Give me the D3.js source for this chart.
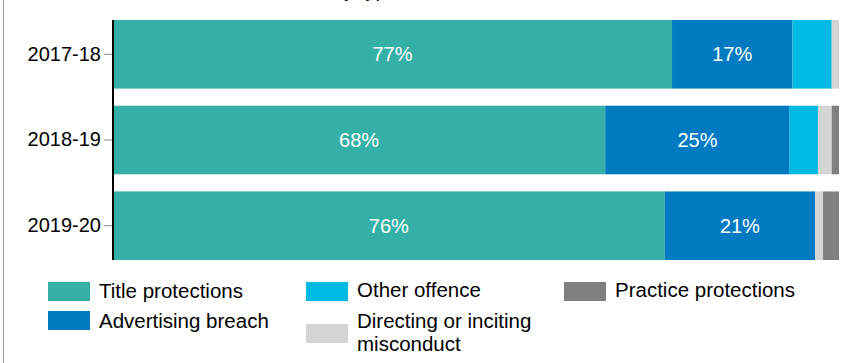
<!DOCTYPE html>
<html lang="en">
    <head>
        <meta charset="utf-8">
        <title>Prosecutions by type</title>
        <script src="https://d3js.org/d3.v7.min.js"></script>
        <style>
            body { margin: 0; background: #fff; }
            svg { display: block; font-family: "Liberation Sans", Arial, sans-serif; }
        </style>
    </head>
    <body>
        <script type="text/javascript">
            var width = 854, height = 363;

            // data (percent of prosecutions)
            var years = ["2017-18", "2018-19", "2019-20"];
            var seriesNames = ["Title protections", "Advertising breach", "Other offence",
                               "Directing or inciting misconduct", "Practice protections"];
            var titleProtections = [77.0, 67.8, 76.0];
            var advertisingBreach = [16.6, 25.4, 20.7];
            var otherOffence = [5.4, 3.9, 0];
            var directingMisconduct = [1.0, 1.9, 1.1];
            var practiceProtections = [0, 1.0, 2.2];

            var colors = ["#35b0a7", "#007bc2", "#00bae3", "#d4d4d4", "#808080"];

            var rows = years.map(function (y, i) {
                var r = { year: y };
                r[seriesNames[0]] = titleProtections[i];
                r[seriesNames[1]] = advertisingBreach[i];
                r[seriesNames[2]] = otherOffence[i];
                r[seriesNames[3]] = directingMisconduct[i];
                r[seriesNames[4]] = practiceProtections[i];
                return r;
            });

            var svg = d3.select("body").append("svg")
                .attr("width", width)
                .attr("height", height);

            // frame line on the left edge
            svg.append("line")
                .attr("x1", 3.5).attr("x2", 3.5)
                .attr("y1", 0).attr("y2", height)
                .attr("stroke", "#9a9a9a");

            // title, mostly cut off above the picture
            svg.append("text")
                .attr("x", 212)
                .attr("y", -3)
                .attr("font-size", 20)
                .text("Prosecutions by type");

            var x = d3.scaleLinear().domain([0, 100]).range([113, 839]);
            var y = d3.scaleBand().domain(years).range([20, 260]).paddingInner(0.2).paddingOuter(0);
            var color = d3.scaleOrdinal().domain(seriesNames).range(colors);

            var stacked = d3.stack().keys(seriesNames)(rows);

            var groups = svg.selectAll("g.series")
                .data(stacked)
                .enter()
                .append("g")
                .attr("class", "series")
                .attr("fill", function (d) { return color(d.key); });

            groups.selectAll("rect")
                .data(function (d) { return d; })
                .enter()
                .append("rect")
                .attr("x", function (d) { return x(d[0]); })
                .attr("y", function (d) { return y(d.data.year); })
                .attr("width", function (d) { return x(d[1]) - x(d[0]); })
                .attr("height", y.bandwidth());

            // value labels on the big segments
            groups.filter(function (d, i) { return i < 2; })
                .selectAll("text")
                .data(function (d) { return d; })
                .enter()
                .append("text")
                .attr("x", function (d) { return (x(d[0]) + x(d[1])) / 2; })
                .attr("y", function (d) { return y(d.data.year) + y.bandwidth() / 2; })
                .attr("dy", "0.35em")
                .attr("text-anchor", "middle")
                .attr("fill", "#fff")
                .attr("font-size", 20)
                .text(function (d) { return Math.round(d[1] - d[0]) + "%"; });

            // y axis
            var yAxis = svg.append("g")
                .attr("transform", "translate(113,0)")
                .call(d3.axisLeft(y).tickSize(9).tickSizeOuter(0).tickPadding(3));
            yAxis.select(".domain").remove();
            yAxis.selectAll(".tick line").attr("stroke", "#888");
            yAxis.selectAll(".tick text")
                .attr("font-size", 20)
                .attr("font-family", "Liberation Sans, Arial, sans-serif")
                .attr("fill", "#000");
            svg.append("line")
                .attr("x1", 113).attr("x2", 113)
                .attr("y1", 20).attr("y2", 260)
                .attr("stroke", "#000")
                .attr("stroke-width", 2);

            // legend
            var legendPos = [
                { x: 48, sy: 282, lines: ["Title protections"], ty: [298] },
                { x: 48, sy: 311, lines: ["Advertising breach"], ty: [328] },
                { x: 306, sy: 282, lines: ["Other offence"], ty: [297] },
                { x: 306, sy: 324, lines: ["Directing or inciting", "misconduct"], ty: [328, 351] },
                { x: 564, sy: 282, lines: ["Practice protections"], ty: [297] }
            ];

            var legend = svg.selectAll("g.legend")
                .data(seriesNames)
                .enter()
                .append("g")
                .attr("class", "legend");

            legend.append("rect")
                .attr("x", function (d, i) { return legendPos[i].x; })
                .attr("y", function (d, i) { return legendPos[i].sy; })
                .attr("width", 42)
                .attr("height", 19)
                .attr("fill", function (d) { return color(d); });

            legend.each(function (d, i) {
                var p = legendPos[i];
                var g = d3.select(this);
                p.lines.forEach(function (line, j) {
                    g.append("text")
                        .attr("x", p.x + 51)
                        .attr("y", p.ty[j])
                        .attr("font-size", 20.5)
                        .attr("fill", "#000")
                        .text(line);
                });
            });
        </script>
    </body>
</html>
